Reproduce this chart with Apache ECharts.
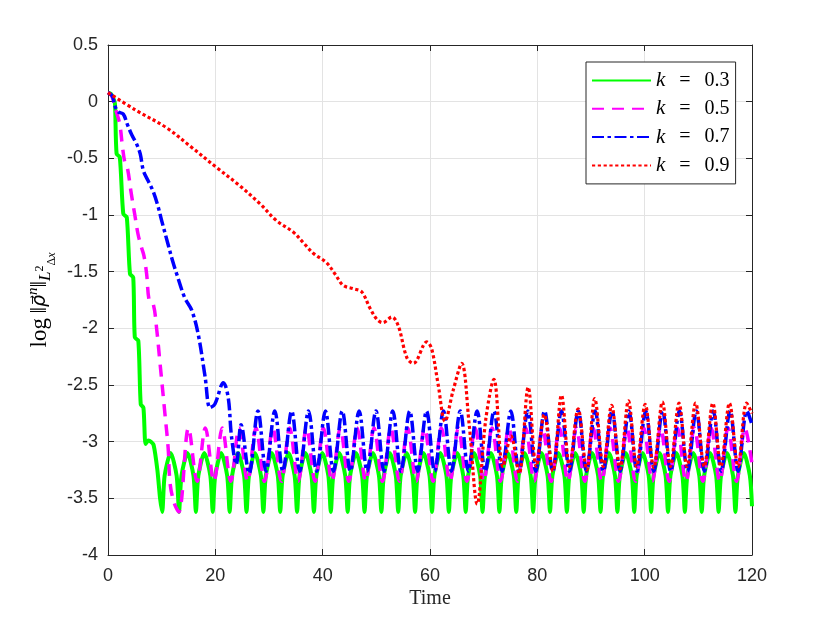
<!DOCTYPE html>
<html>
<head>
<meta charset="utf-8">
<title>log norm vs time</title>
<script src="https://cdn.jsdelivr.net/npm/echarts@6/dist/echarts.min.js"></script>
<style>
  html, body { margin: 0; padding: 0; background: #fff; }
  #chart { width: 830px; height: 623px; }
</style>
</head>
<body>
<div id="chart"></div>
<script>
// k values shown in the legend
var kLabels = ['0.3', '0.5', '0.7', '0.9'];
var xTicks = [0, 20, 40, 60, 80, 100, 120];

// k = 0.3 (green, solid) : [time, log norm]
var greenPts = [
  [0, 0.08], [0.5, 0.07], [1.0, 0.03], [1.3, -0.02], [1.6, -0.46], [2.2, -0.49],
  [2.85, -0.99], [3.5, -1.02], [4.1, -1.52], [4.7, -1.55], [5.0, -2.08], [5.65, -2.11],
  [6.1, -2.67], [6.6, -2.70], [7.0, -3.02], [7.5, -2.99], [8.0, -3.00], [8.5, -3.03],
  [9.2, -3.25], [9.7, -3.50],
  [10.10, -3.62], [10.55, -3.30], [11.67, -3.10], [12.79, -3.30],
  [13.24, -3.62], [13.69, -3.30], [14.81, -3.10], [15.93, -3.30],
  [16.38, -3.62], [16.83, -3.30], [17.95, -3.10], [19.07, -3.30],
  [19.52, -3.62], [19.97, -3.30], [21.09, -3.10], [22.21, -3.30],
  [22.67, -3.62], [23.12, -3.30], [24.24, -3.10], [25.36, -3.30],
  [25.81, -3.62], [26.26, -3.30], [27.38, -3.10], [28.50, -3.30],
  [28.95, -3.62], [29.40, -3.30], [30.52, -3.10], [31.64, -3.30],
  [32.09, -3.62], [32.54, -3.30], [33.66, -3.10], [34.78, -3.30],
  [35.23, -3.62], [35.68, -3.30], [36.80, -3.10], [37.92, -3.30],
  [38.37, -3.62], [38.82, -3.30], [39.94, -3.10], [41.06, -3.30],
  [41.52, -3.62], [41.97, -3.30], [43.09, -3.10], [44.21, -3.30],
  [44.66, -3.62], [45.11, -3.30], [46.23, -3.10], [47.35, -3.30],
  [47.80, -3.62], [48.25, -3.30], [49.37, -3.10], [50.49, -3.30],
  [50.94, -3.62], [51.39, -3.30], [52.51, -3.10], [53.63, -3.30],
  [54.08, -3.62], [54.53, -3.30], [55.65, -3.10], [56.77, -3.30],
  [57.22, -3.62], [57.67, -3.30], [58.79, -3.10], [59.91, -3.30],
  [60.37, -3.62], [60.82, -3.30], [61.94, -3.10], [63.06, -3.30],
  [63.51, -3.62], [63.96, -3.30], [65.08, -3.10], [66.20, -3.30],
  [66.65, -3.62], [67.10, -3.30], [68.22, -3.10], [69.34, -3.30],
  [69.79, -3.62], [70.24, -3.30], [71.36, -3.10], [72.48, -3.30],
  [72.93, -3.62], [73.38, -3.30], [74.50, -3.10], [75.62, -3.30],
  [76.07, -3.62], [76.52, -3.30], [77.64, -3.10], [78.76, -3.30],
  [79.22, -3.62], [79.67, -3.30], [80.79, -3.10], [81.91, -3.30],
  [82.36, -3.62], [82.81, -3.30], [83.93, -3.10], [85.05, -3.30],
  [85.50, -3.62], [85.95, -3.30], [87.07, -3.10], [88.19, -3.30],
  [88.64, -3.62], [89.09, -3.30], [90.21, -3.10], [91.33, -3.30],
  [91.78, -3.62], [92.23, -3.30], [93.35, -3.10], [94.47, -3.30],
  [94.92, -3.62], [95.37, -3.30], [96.49, -3.10], [97.61, -3.30],
  [98.06, -3.62], [98.51, -3.30], [99.63, -3.10], [100.75, -3.30],
  [101.21, -3.62], [101.66, -3.30], [102.78, -3.10], [103.90, -3.30],
  [104.35, -3.62], [104.80, -3.30], [105.92, -3.10], [107.04, -3.30],
  [107.49, -3.62], [107.94, -3.30], [109.06, -3.10], [110.18, -3.30],
  [110.63, -3.62], [111.08, -3.30], [112.20, -3.10], [113.32, -3.30],
  [113.77, -3.62], [114.22, -3.30], [115.34, -3.10], [116.46, -3.30],
  [116.91, -3.62], [117.36, -3.30], [118.48, -3.10], [119.60, -3.30],
  [120, -3.57]
];

// k = 0.5 (magenta, dashed)
var magentaPts = [
  [0, 0.08], [0.7, 0.05], [1.5, -0.08], [2.2, -0.20], [2.7, -0.40], [3.2, -0.55],
  [3.6, -0.58], [4.3, -0.80], [5.0, -1.00], [5.6, -1.17], [6.2, -1.28], [6.7, -1.36],
  [7.2, -1.52], [7.7, -1.76], [8.45, -1.79], [9.1, -2.02], [9.7, -2.31], [10.6, -2.75],
  [11.2, -3.05], [11.6, -3.38], [12.4, -3.55], [13.2, -3.62],
  [15.00, -2.88], [16.60, -3.35], [18.14, -2.88], [19.74, -3.35],
  [21.28, -2.88], [22.88, -3.35], [24.42, -2.88], [26.02, -3.35],
  [27.57, -2.88], [29.17, -3.35], [30.71, -2.88], [32.31, -3.35],
  [33.85, -2.88], [35.45, -3.35], [36.99, -2.88], [38.59, -3.35],
  [40.13, -2.88], [41.73, -3.35], [43.27, -2.88], [44.87, -3.35],
  [46.42, -2.88], [48.02, -3.35], [49.56, -2.88], [51.16, -3.35],
  [52.70, -2.88], [54.30, -3.35], [55.84, -2.88], [57.44, -3.35],
  [58.98, -2.88], [60.58, -3.35], [62.12, -2.88], [63.72, -3.35],
  [65.27, -2.88], [66.87, -3.35], [68.41, -2.88], [70.01, -3.35],
  [71.55, -2.88], [73.15, -3.35], [74.69, -2.88], [76.29, -3.35],
  [77.83, -2.88], [79.43, -3.35], [80.97, -2.88], [82.57, -3.35],
  [84.12, -2.88], [85.72, -3.35], [87.26, -2.88], [88.86, -3.35],
  [90.40, -2.88], [92.00, -3.35], [93.54, -2.88], [95.14, -3.35],
  [96.68, -2.88], [98.28, -3.35], [99.82, -2.88], [101.42, -3.35],
  [102.97, -2.88], [104.57, -3.35], [106.11, -2.88], [107.71, -3.35],
  [109.25, -2.88], [110.85, -3.35], [112.39, -2.88], [113.99, -3.35],
  [115.53, -2.88], [117.13, -3.35], [118.67, -2.88], [120, -3.20]
];

// k = 0.7 (blue, dash-dot)
var bluePts = [
  [0, 0.08], [0.8, 0.05], [1.3, -0.04], [1.9, -0.09], [2.85, -0.11], [3.6, -0.20],
  [4.4, -0.29], [5.3, -0.37], [6.0, -0.46], [6.6, -0.61], [7.5, -0.70], [8.4, -0.79],
  [9.3, -0.92], [10.0, -1.05], [11.2, -1.26], [12.0, -1.40], [12.8, -1.52], [14.3, -1.73],
  [15.6, -1.84], [16.8, -2.05], [18.1, -2.43], [19.0, -2.70], [19.9, -2.67], [21.5, -2.48],
  [22.4, -2.61], [23.0, -2.95], [23.9, -3.20],
  [24.80, -2.85], [26.30, -3.28], [27.94, -2.73], [29.44, -3.26],
  [31.08, -2.73], [32.58, -3.26], [34.22, -2.73], [35.72, -3.26],
  [37.37, -2.73], [38.87, -3.26], [40.51, -2.73], [42.01, -3.26],
  [43.65, -2.73], [45.15, -3.26], [46.79, -2.73], [48.29, -3.26],
  [49.93, -2.73], [51.43, -3.26], [53.07, -2.73], [54.57, -3.26],
  [56.22, -2.73], [57.72, -3.26], [59.36, -2.73], [60.86, -3.26],
  [62.50, -2.73], [64.00, -3.26], [65.64, -2.73], [67.14, -3.26],
  [68.78, -2.73], [70.28, -3.26], [71.92, -2.73], [73.42, -3.26],
  [75.07, -2.73], [76.57, -3.26], [78.21, -2.73], [79.71, -3.26],
  [81.35, -2.73], [82.85, -3.26], [84.49, -2.73], [85.99, -3.26],
  [87.63, -2.73], [89.13, -3.26], [90.77, -2.73], [92.27, -3.26],
  [93.92, -2.73], [95.42, -3.26], [97.06, -2.73], [98.56, -3.26],
  [100.20, -2.73], [101.70, -3.26], [103.34, -2.73], [104.84, -3.26],
  [106.48, -2.73], [107.98, -3.26], [109.62, -2.73], [111.12, -3.26],
  [112.77, -2.73], [114.27, -3.26], [115.91, -2.73], [117.41, -3.26],
  [119.05, -2.73], [120, -2.85]
];

// k = 0.9 (red, dotted)
var redPts = [
  [0, 0.08], [5.0, -0.07], [10.9, -0.23], [15.5, -0.40], [20.2, -0.58], [24.5, -0.74],
  [28.3, -0.90], [31.4, -1.05], [34.5, -1.15], [36.5, -1.25], [38.3, -1.34], [40.7, -1.42],
  [42.3, -1.52], [43.8, -1.62], [45.7, -1.65], [47.3, -1.68], [48.8, -1.82], [50.1, -1.92],
  [51.2, -1.95], [52.9, -1.90], [54.1, -1.98], [55.7, -2.26], [56.9, -2.31], [59.4, -2.12],
  [60.3, -2.18], [61.5, -2.49], [62.8, -2.82], [64.3, -2.55], [65.9, -2.31], [67.3, -2.85],
  [68.8, -3.55], [70.4, -2.80], [71.9, -2.45], [73.6, -3.22], [75.1, -2.95], [76.6, -3.28],
  [78.3, -2.52], [79.8, -3.22], [81.3, -2.76], [82.9, -3.26], [84.5, -2.59], [86.0, -3.22],
  [87.6, -2.71], [89.2, -3.25], [90.7, -2.62], [92.3, -3.22], [93.84, -2.68], [95.4, -3.24],
  [96.98, -2.64], [98.5, -3.22], [100.1, -2.67], [101.7, -3.23], [103.3, -2.65], [104.8, -3.22],
  [106.4, -2.66], [107.9, -3.22], [109.5, -2.66], [111.1, -3.22], [112.7, -2.66], [114.2, -3.22],
  [115.8, -2.66], [117.4, -3.22], [119.0, -2.66], [120, -2.75]
];

var axisColor = '#262626';
var serif = 'Liberation Serif';

var chart = echarts.init(document.getElementById('chart'), null, { renderer: 'canvas' });

function lineSeries(name, pts, color, width, dash, smooth) {
  return {
    name: name,
    type: 'line',
    data: pts,
    symbol: 'none',
    showSymbol: false,
    smooth: smooth,
    animation: false,
    lineStyle: { color: color, width: width, type: dash, cap: 'butt', join: 'round' },
    itemStyle: { color: color, opacity: 0 }
  };
}

var names = kLabels.map(function (k) { return 'k = ' + k; });

var option = {
  backgroundColor: '#fff',
  animation: false,
  grid: { left: 108, right: 78, top: 45, bottom: 68, containLabel: false, outerBoundsMode: 'none' },
  legend: {
    data: names,
    orient: 'vertical',
    left: 586,
    top: 62,
    itemWidth: 59,
    itemHeight: 14,
    itemGap: 7.3,
    padding: [8, 6, 8, 5],
    borderColor: axisColor,
    borderWidth: 1,
    backgroundColor: '#fff',
    selectedMode: false,
    itemStyle: { opacity: 0 },
    formatter: function (name) {
      return '{i|k}{t|\u2002\u2009=\u2002\u2009' + name.split('= ')[1] + '}';
    },
    textStyle: {
      color: '#000',
      rich: {
        i: { fontFamily: serif, fontStyle: 'italic', fontSize: 21 },
        t: { fontFamily: serif, fontSize: 20 }
      }
    }
  },
  xAxis: [{
    type: 'value', min: 0, max: 120, interval: 20, position: 'bottom',
    name: 'Time', nameLocation: 'middle', nameGap: 34, nameMoveOverlap: false,
    nameTextStyle: { fontFamily: serif, fontSize: 20, color: axisColor },
    axisLine: { show: true, onZero: false, lineStyle: { color: axisColor, width: 1 } },
    axisTick: { show: true, inside: true, length: 6, lineStyle: { color: axisColor } },
    axisLabel: { margin: 12, fontFamily: 'Liberation Sans', fontSize: 18, color: axisColor },
    splitLine: { show: true, lineStyle: { color: '#e3e3e3', width: 1 } }
  }, {
    type: 'value', min: 0, max: 120, interval: 20, position: 'top',
    axisLine: { show: true, onZero: false, lineStyle: { color: axisColor, width: 1 } },
    axisTick: { show: true, inside: true, length: 6, lineStyle: { color: axisColor } },
    axisLabel: { show: false },
    splitLine: { show: false }
  }],
  yAxis: [{
    type: 'value', min: -4, max: 0.5, interval: 0.5, position: 'left',
    name: '{r|log\u2009\u2016}{i|\u03C1\u20D7}{sup|n}{r|\u2016}{sub|L}{sup2|2}{sub2|\u0394}{sub2i|x}',
    nameLocation: 'middle', nameGap: 50, nameRotate: 90, nameMoveOverlap: false,
    nameTextStyle: {
      color: '#000',
      rich: {
        r: { fontFamily: serif, fontSize: 23, lineHeight: 36, verticalAlign: 'middle' },
        i: { fontFamily: 'DejaVu Sans', fontStyle: 'italic', fontSize: 19, lineHeight: 36, verticalAlign: 'middle' },
        sup: { fontFamily: serif, fontStyle: 'italic', fontSize: 15, lineHeight: 36, verticalAlign: 'top', padding: [4, 0, 0, 0] },
        sub: { fontFamily: serif, fontStyle: 'italic', fontSize: 17, lineHeight: 36, verticalAlign: 'bottom', padding: [0, 0, 4, 0] },
        sup2: { fontFamily: serif, fontSize: 12, lineHeight: 36, verticalAlign: 'middle' },
        sub2: { fontFamily: serif, fontSize: 12, lineHeight: 36, verticalAlign: 'bottom' },
        sub2i: { fontFamily: serif, fontStyle: 'italic', fontSize: 12, lineHeight: 36, verticalAlign: 'bottom' }
      }
    },
    axisLine: { show: true, onZero: false, lineStyle: { color: axisColor, width: 1 } },
    axisTick: { show: true, inside: true, length: 6, lineStyle: { color: axisColor } },
    axisLabel: { margin: 10, fontFamily: 'Liberation Sans', fontSize: 18, color: axisColor },
    splitLine: { show: true, lineStyle: { color: '#e3e3e3', width: 1 } }
  }, {
    type: 'value', min: -4, max: 0.5, interval: 0.5, position: 'right',
    axisLine: { show: true, onZero: false, lineStyle: { color: axisColor, width: 1 } },
    axisTick: { show: true, inside: true, length: 6, lineStyle: { color: axisColor } },
    axisLabel: { show: false },
    splitLine: { show: false }
  }],
  series: [
    lineSeries(names[0], greenPts, '#00ff00', 4, 'solid', 0.25),
    lineSeries(names[1], magentaPts, '#ff00ff', 3.5, [12, 8], 0.35),
    lineSeries(names[2], bluePts, '#0000ff', 3.5, [12, 3.5, 3.5, 3.5], 0.35),
    lineSeries(names[3], redPts, '#ff0000', 3.2, [3.2, 2.6], 0.35)
  ]
};

chart.setOption(option);
</script>
</body>
</html>
